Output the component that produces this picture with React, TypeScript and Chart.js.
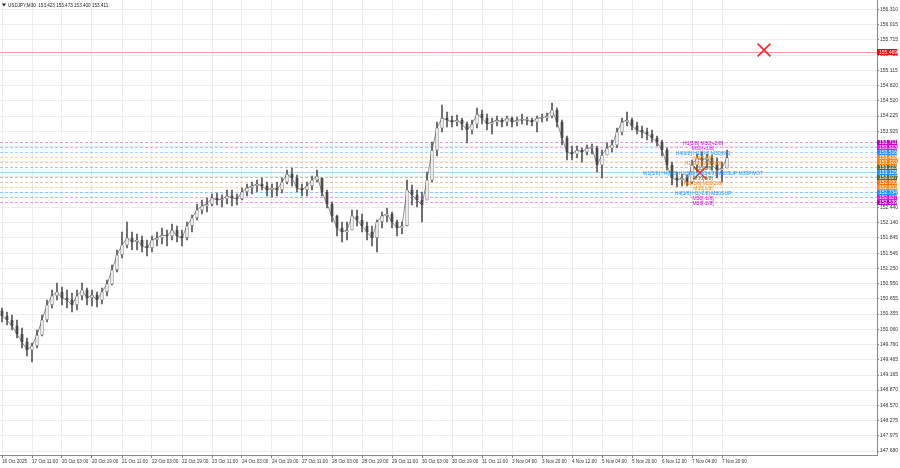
import React, { useEffect, useRef } from 'react';
import { Chart, registerables } from 'chart.js';
Chart.register(...registerables);

const symbolTitle = 'USDJPY,M30  153.423 153.473 153.400 153.411';
const timeLabels = [
  '16 Oct 2025', '17 Oct 11:00', '20 Oct 03:00', '20 Oct 19:00', '21 Oct 11:00', '22 Oct 03:00',
  '22 Oct 19:00', '23 Oct 11:00', '24 Oct 03:00', '24 Oct 19:00', '27 Oct 11:00', '28 Oct 03:00',
  '28 Oct 19:00', '29 Oct 11:00', '30 Oct 03:00', '30 Oct 19:00', '31 Oct 11:00', '3 Nov 04:00',
  '3 Nov 20:00', '4 Nov 12:00', '5 Nov 04:00', '5 Nov 20:00', '6 Nov 12:00', '7 Nov 04:00', '7 Nov 20:00',
];
const candlesPerLabel = 6;
const firstOpen = 150.42;
const highs = [
  150.474, 150.396, 150.337, 150.240, 150.084, 149.888, 149.790, 150.044, 150.337, 150.630,
  150.826, 150.962, 150.884, 150.826, 150.767, 150.826, 150.962, 150.865, 150.826, 150.787,
  150.865, 151.021, 151.314, 151.607, 151.959, 152.155, 151.959, 151.920, 151.881, 151.803,
  151.881, 151.959, 152.037, 151.998, 152.116, 152.077, 151.998, 152.155, 152.291, 152.506,
  152.584, 152.624, 152.702, 152.721, 152.682, 152.780, 152.780, 152.702, 152.819, 152.897,
  152.936, 152.975, 153.014, 152.936, 152.897, 152.936, 153.014, 153.170, 153.209, 153.073,
  152.897, 152.936, 153.053, 153.170, 153.014, 152.780, 152.545, 152.291, 152.155, 152.155,
  152.389, 152.389, 152.311, 152.155, 152.077, 152.194, 152.350, 152.428, 152.350, 152.194,
  152.155, 152.975, 152.877, 152.780, 152.741, 153.131, 153.718, 154.108, 154.440, 154.303,
  154.225, 154.245, 154.186, 154.108, 154.147, 154.382, 154.343, 154.264, 154.186, 154.225,
  154.186, 154.225, 154.206, 154.206, 154.264, 154.206, 154.186, 154.225, 154.264, 154.284,
  154.479, 154.382, 154.147, 153.835, 153.639, 153.639, 153.600, 153.659, 153.678, 153.639,
  153.561, 153.698, 153.757, 153.991, 154.186, 154.303, 154.186, 154.108, 154.030, 153.991,
  153.952, 153.835, 153.757, 153.600, 153.327, 153.131, 153.092, 153.073, 153.366, 153.483,
  153.522, 153.483, 153.463, 153.405, 153.327, 153.561,
];
const lows = [
  150.201, 150.142, 150.044, 149.888, 149.693, 149.536, 149.419, 149.693, 149.927, 150.201,
  150.474, 150.630, 150.533, 150.474, 150.396, 150.435, 150.630, 150.533, 150.513, 150.493,
  150.552, 150.709, 150.923, 151.178, 151.451, 151.647, 151.607, 151.607, 151.568, 151.490,
  151.568, 151.686, 151.725, 151.686, 151.803, 151.764, 151.686, 151.803, 151.959, 152.194,
  152.311, 152.350, 152.467, 152.487, 152.448, 152.506, 152.467, 152.487, 152.584, 152.663,
  152.702, 152.741, 152.780, 152.663, 152.643, 152.663, 152.721, 152.897, 152.858, 152.741,
  152.663, 152.663, 152.780, 152.936, 152.663, 152.428, 152.155, 151.881, 151.764, 151.803,
  151.998, 152.077, 151.959, 151.803, 151.686, 151.568, 152.037, 152.155, 152.037, 151.881,
  151.920, 152.077, 152.487, 152.448, 152.155, 152.584, 152.936, 153.444, 153.913, 154.010,
  154.010, 154.030, 153.952, 153.698, 153.874, 153.991, 154.069, 153.952, 153.874, 154.030,
  154.010, 154.030, 154.010, 154.030, 154.069, 154.050, 154.030, 153.913, 154.108, 154.128,
  154.186, 154.010, 153.659, 153.366, 153.366, 153.405, 153.327, 153.463, 153.483, 153.131,
  153.014, 153.463, 153.522, 153.600, 153.854, 154.030, 153.952, 153.874, 153.796, 153.757,
  153.718, 153.639, 153.444, 153.170, 152.877, 152.838, 152.858, 152.858, 152.897, 153.131,
  153.248, 153.209, 153.170, 153.014, 152.936, 153.209,
];
const closes = [
  150.318, 150.240, 150.123, 149.966, 149.810, 149.653, 149.732, 149.946, 150.240, 150.533,
  150.709, 150.787, 150.670, 150.630, 150.533, 150.709, 150.826, 150.670, 150.728, 150.630,
  150.787, 150.943, 151.217, 151.510, 151.705, 151.842, 151.764, 151.803, 151.686, 151.647,
  151.803, 151.842, 151.900, 151.881, 151.998, 151.881, 151.842, 152.077, 152.233, 152.389,
  152.467, 152.506, 152.624, 152.584, 152.604, 152.663, 152.624, 152.604, 152.741, 152.819,
  152.858, 152.897, 152.858, 152.780, 152.819, 152.780, 152.936, 153.092, 153.014, 152.819,
  152.780, 152.858, 152.975, 153.053, 152.741, 152.506, 152.272, 152.037, 151.959, 151.998,
  152.272, 152.194, 152.077, 151.959, 151.842, 152.155, 152.272, 152.311, 152.155, 152.037,
  152.077, 152.780, 152.682, 152.584, 152.487, 152.975, 153.561, 153.991, 154.186, 154.147,
  154.108, 154.147, 154.069, 153.952, 154.069, 154.264, 154.186, 154.069, 154.108, 154.147,
  154.108, 154.186, 154.108, 154.147, 154.147, 154.147, 154.108, 154.186, 154.186, 154.225,
  154.343, 154.108, 153.796, 153.522, 153.483, 153.561, 153.522, 153.600, 153.600, 153.268,
  153.463, 153.600, 153.659, 153.913, 154.108, 154.147, 154.030, 153.952, 153.913, 153.874,
  153.796, 153.718, 153.561, 153.268, 153.014, 152.975, 153.014, 152.936, 153.268, 153.405,
  153.366, 153.405, 153.268, 153.170, 153.209, 153.411,
];
const yTicks = [
  156.310, 156.015, 155.715, 155.415, 155.115, 154.820, 154.520, 154.225, 153.925, 153.630,
  153.330, 153.035, 152.735, 152.440, 152.140, 151.845, 151.545, 151.250, 150.950, 150.655,
  150.355, 150.060, 149.760, 149.465, 149.165, 148.870, 148.570, 148.275, 147.975, 147.680,
];
const yMin = 147.602;
const yMax = 156.492;
const levelPrices = [
  153.711, 153.613, 153.516, 153.418, 153.320, 153.223, 153.125, 153.027, 152.930, 152.832, 152.734, 152.637, 152.539,
];
const levelColors = [
  '#c000c0', '#ff00ff', '#1e90ff', '#ff8c00', '#ff7f00', '#556b2f', '#1e90ff', '#556b2f', '#ff7000', '#ff8c00', '#1e90ff', '#ff00ff', '#c000c0',
];
const levelTexts = [
  'H1[3/8] M30[+2/8]',
  'M30[+1/8]',
  'H4[6/8] H1[2/8] M30[8/8]',
  'M30[7/8]',
  'H1[1/8] M30[6/8]',
  'M30[5/8]',
  'W1[5/8] H4[5/8] H1[0/8] M30[4/8] M30SUP M30PIVOT',
  'M30[3/8]',
  'H1[-1/8] M30[2/8]',
  'M30[1/8]',
  'H4[3/8] H1[-2/8] M30SUP',
  'M30[-1/8]',
  'M30[-2/8]',
];
const pivotLevel = 153.125;
const alertPrice = 155.469;
const crossMarks = [
  { x: 152.4, y: 155.515 },
  { x: 139.6, y: 153.115 },
];

const FONT = 'Liberation Sans';
const xMin = -0.4;
const xMax = 175.0;

export default function App() {
  const ref = useRef<HTMLCanvasElement | null>(null);
  useEffect(() => {
    if (!ref.current) return;
    const idx = closes.map((_, i) => i);
    const opens = closes.map((_, i) => {
      const o = i === 0 ? firstOpen : closes[i - 1];
      return Math.min(highs[i], Math.max(lows[i], o));
    });
    const wickData = idx.map((i) => ({ x: i, y: [lows[i], highs[i]] }));
    const bodyData = idx.map((i) => ({ x: i, y: [opens[i], closes[i]] }));
    const closeData = idx.map((i) => ({ x: i, y: closes[i] }));
    const bodyFill = idx.map((i) => (closes[i] >= opens[i] ? '#ffffff' : '#4a4a4a'));

    const overlay = {
      id: 'overlay',
      beforeDatasetsDraw(chart: any) {
        const { ctx, chartArea, scales } = chart;
        const y = scales.y;
        ctx.save();
        ctx.lineWidth = 1;
        levelPrices.forEach((p, i) => {
          const py = Math.round(y.getPixelForValue(p)) + 0.5;
          ctx.globalAlpha = p === pivotLevel ? 0.55 : 0.4;
          ctx.strokeStyle = p === pivotLevel ? '#5ab4f0' : levelColors[i];
          ctx.setLineDash(p === pivotLevel ? [] : [3, 2]);
          ctx.beginPath();
          ctx.moveTo(chartArea.left, py);
          ctx.lineTo(chartArea.right, py);
          ctx.stroke();
        });
        ctx.globalAlpha = 0.55;
        ctx.setLineDash([]);
        ctx.strokeStyle = '#ff5050';
        const ay = Math.round(y.getPixelForValue(alertPrice)) + 0.5;
        ctx.beginPath();
        ctx.moveTo(chartArea.left, ay);
        ctx.lineTo(chartArea.right, ay);
        ctx.stroke();
        ctx.restore();
      },
      afterDatasetsDraw(chart: any) {
        const { ctx, scales } = chart;
        const cx = scales.x.getPixelForValue(crossMarks[1].x) + 3;
        ctx.save();
        ctx.font = `5px "${FONT}"`;
        ctx.textAlign = 'center';
        ctx.textBaseline = 'middle';
        levelTexts.forEach((t, i) => {
          const py = scales.y.getPixelForValue(levelPrices[i]) + 1;
          ctx.fillStyle = levelColors[i];
          ctx.fillText(t, cx, py);
        });
        ctx.restore();
      },
      afterDraw(chart: any) {
        const { ctx, chartArea, scales } = chart;
        const y = scales.y;
        ctx.save();
        const bx = chartArea.right;
        const bw = 20;
        ctx.font = `5px "${FONT}"`;
        ctx.textBaseline = 'middle';
        ctx.textAlign = 'left';
        levelPrices.forEach((p, i) => {
          const py = y.getPixelForValue(p);
          ctx.fillStyle = levelColors[i];
          ctx.fillRect(bx, Math.round(py - 2.5), bw, 5);
          ctx.fillStyle = '#ffffff';
          ctx.fillText(p.toFixed(3), bx + 2, py + 0.3);
        });
        const ay = y.getPixelForValue(alertPrice);
        ctx.fillStyle = '#ff0000';
        ctx.fillRect(bx, Math.round(ay - 3), bw, 6);
        ctx.fillStyle = '#ffffff';
        ctx.fillText(alertPrice.toFixed(3), bx + 2, ay + 0.3);
        ctx.fillStyle = '#222222';
        ctx.beginPath();
        ctx.moveTo(2, 3.5);
        ctx.lineTo(6, 3.5);
        ctx.lineTo(4, 6.5);
        ctx.closePath();
        ctx.fill();
        ctx.font = `4.6px "${FONT}"`;
        ctx.fillText(symbolTitle, 8, 5.3);
        ctx.restore();
      },
    };

    const chart = new Chart(ref.current, {
      type: 'bar',
      data: {
        datasets: [
          {
            type: 'line',
            data: crossMarks,
            showLine: false,
            pointStyle: 'crossRot',
            pointRadius: 9,
            pointBorderColor: '#ff2020',
            pointBorderWidth: 1.5,
            borderColor: '#ff2020',
            order: 0,
          } as any,
          {
            data: bodyData,
            backgroundColor: bodyFill,
            borderColor: '#444444',
            borderWidth: 0.7,
            borderSkipped: false,
            barThickness: 2.5,
            minBarLength: 1,
            grouped: false,
            order: 1,
          } as any,
          {
            data: wickData,
            backgroundColor: '#555555',
            borderWidth: 0,
            barThickness: 1,
            grouped: false,
            order: 2,
          } as any,
          {
            type: 'line',
            data: closeData,
            borderColor: 'rgba(90,90,90,0.7)',
            borderWidth: 1,
            pointRadius: 0,
            tension: 0,
            order: 3,
          } as any,
        ],
      },
      options: {
        animation: false,
        responsive: false,
        devicePixelRatio: 1,
        layout: { padding: 0, autoPadding: false },
        plugins: { legend: { display: false }, tooltip: { enabled: false } },
        scales: {
          x: {
            type: 'linear',
            min: xMin,
            max: xMax,
            offset: false,
            grid: { offset: false, color: '#ececec', tickLength: 3, tickColor: '#888888' },
            border: { color: '#8a8a8a' },
            afterBuildTicks: (scale: any) => {
              scale.ticks = timeLabels.map((_, k) => ({ value: k * candlesPerLabel }));
            },
            afterFit: (scale: any) => {
              scale.height = 13;
              scale.paddingLeft = 0;
              scale.paddingRight = 0;
            },
            ticks: {
              autoSkip: false,
              maxRotation: 0,
              minRotation: 0,
              align: 'start',
              padding: 1,
              color: '#333333',
              font: { family: FONT, size: 4.6 },
              callback: (v: any) => timeLabels[Math.round(Number(v) / candlesPerLabel)] ?? '',
            },
          } as any,
          y: {
            type: 'linear',
            position: 'right',
            min: yMin,
            max: yMax,
            grid: { color: '#ececec', tickLength: 2, tickColor: '#888888' },
            border: { color: '#8a8a8a' },
            afterBuildTicks: (scale: any) => {
              scale.ticks = yTicks.map((v) => ({ value: v }));
            },
            afterFit: (scale: any) => {
              scale.width = 23;
              scale.paddingTop = 0;
              scale.paddingBottom = 0;
            },
            ticks: {
              padding: 1,
              color: '#333333',
              font: { family: FONT, size: 5 },
              callback: (v: any) => Number(v).toFixed(3),
            },
          } as any,
        },
      },
      plugins: [overlay],
    });
    return () => chart.destroy();
  }, []);

  return (
    <div style={{ position: 'fixed', left: 0, top: 0, width: 900, height: 468, background: '#ffffff' }}>
      <canvas ref={ref} width={900} height={468} style={{ display: 'block' }} />
    </div>
  );
}
